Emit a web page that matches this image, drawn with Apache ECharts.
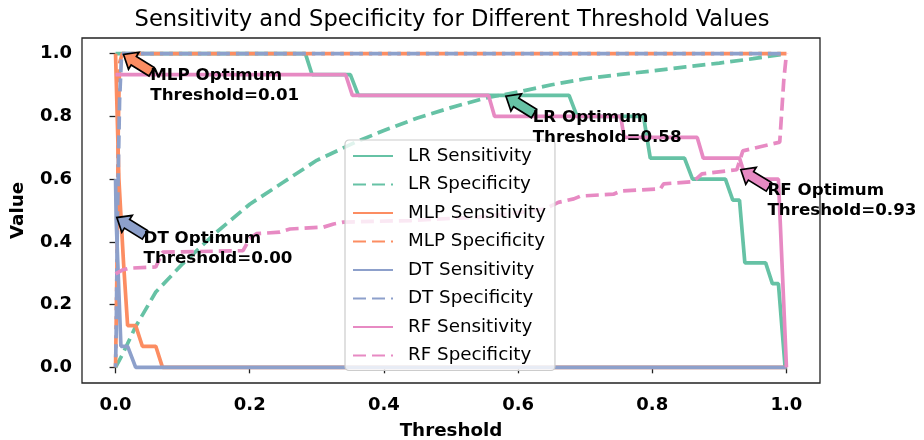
<!DOCTYPE html>
<html>
<head>
<meta charset="utf-8">
<script src="https://cdn.jsdelivr.net/npm/echarts@6/dist/echarts.min.js"></script>
<style>html,body{margin:0;padding:0;background:#fff}#c{width:924px;height:440px}</style>
</head>
<body>
<div id="c"></div>
<script>
// ---- data ----
const xTicks = [0.0, 0.2, 0.4, 0.6, 0.8, 1.0];
const yTicks = [0.0, 0.2, 0.4, 0.6, 0.8, 1.0];

const lrSensX = [0, 0.283, 0.293, 0.35, 0.362, 0.676, 0.688, 0.787, 0.797, 0.848, 0.86, 0.909, 0.92, 0.93, 0.938, 0.969, 0.979, 0.988, 0.998, 1.0];
const lrSensY = [1, 1, 0.933, 0.933, 0.867, 0.867, 0.8, 0.8, 0.667, 0.667, 0.6, 0.6, 0.533, 0.533, 0.333, 0.333, 0.267, 0.267, 0, 0];

const lrSpecX = [0, 0.01, 0.03, 0.06, 0.1, 0.15, 0.2, 0.25, 0.3, 0.36, 0.4, 0.45, 0.5, 0.55, 0.6, 0.65, 0.7, 0.75, 0.8, 0.85, 0.9, 0.95, 1.0];
const lrSpecY = [0, 0.04, 0.13, 0.24, 0.33, 0.43, 0.52, 0.59, 0.66, 0.72, 0.755, 0.795, 0.828, 0.858, 0.878, 0.901, 0.92, 0.933, 0.945, 0.958, 0.97, 0.984, 1.0];

const mlpSensX = [0, 0.005, 0.012, 0.018, 0.03, 0.04, 0.06, 0.07, 1.0];
const mlpSensY = [1, 0.6, 0.33, 0.133, 0.133, 0.067, 0.067, 0, 0];

const mlpSpecX = [0, 0.002, 0.004, 0.006, 0.01, 1.0];
const mlpSpecY = [0, 0.3, 0.75, 0.97, 1, 1];

const dtSensX = [0, 0.001, 0.008, 0.018, 0.03, 1.0];
const dtSensY = [0.6, 0.467, 0.067, 0.067, 0, 0];

const dtSpecX = [0, 0.001, 0.003, 0.006, 0.009, 1.0];
const dtSpecY = [0, 0.12, 0.5, 0.85, 1, 1];

const rfSensX = [0, 0.343, 0.353, 0.556, 0.565, 0.753, 0.758, 0.867, 0.876, 0.93, 0.934, 0.94, 0.988, 1.0];
const rfSensY = [0.933, 0.933, 0.867, 0.867, 0.8, 0.8, 0.733, 0.733, 0.667, 0.667, 0.64, 0.6, 0.6, 0];

const rfSpecX = [0, 0.01, 0.02, 0.06, 0.07, 0.19, 0.2, 0.21, 0.245, 0.26, 0.31, 0.325, 0.34, 0.44, 0.54, 0.59, 0.64, 0.66, 0.683, 0.693, 0.742, 0.753, 0.812, 0.817, 0.861, 0.874, 0.926, 0.935, 0.99, 0.996, 1.0];
const rfSpecY = [0.298, 0.31, 0.316, 0.32, 0.367, 0.372, 0.41, 0.426, 0.431, 0.441, 0.447, 0.457, 0.463, 0.468, 0.479, 0.49, 0.505, 0.526, 0.537, 0.546, 0.552, 0.562, 0.569, 0.585, 0.592, 0.617, 0.63, 0.69, 0.718, 0.915, 1.0];

const annoNames = ['LR', 'MLP', 'DT', 'RF'];
const annoX = [0.58, 0.01, 0.00, 0.93];
const annoY = [0.867, 1.0, 0.48, 0.633];

// ---- styling ----
const colors = {LR: '#66c2a5', MLP: '#fc8d62', DT: '#8da0cb', RF: '#e78ac3'};
const FONT = '"DejaVu Sans", "Liberation Sans", sans-serif';
const LW = 3.7;
const DASH = [13, 6];

function pairs(xs, ys) { return xs.map((x, i) => [x, ys[i]]); }
function mk(name, xs, ys, color, dashed, offset) {
  return {
    name: name, type: 'line', data: pairs(xs, ys), symbol: 'none',
    showSymbol: false, animation: false,
    lineStyle: {color: color, width: LW, type: dashed ? DASH : 'solid', dashOffset: offset || 0, cap: 'butt'},
    itemStyle: {color: color}
  };
}

const series = [
  mk('LR Sensitivity', lrSensX, lrSensY, colors.LR, false),
  mk('LR Specificity', lrSpecX, lrSpecY, colors.LR, true),
  mk('MLP Sensitivity', mlpSensX, mlpSensY, colors.MLP, false),
  mk('MLP Specificity', mlpSpecX, mlpSpecY, colors.MLP, true),
  mk('DT Sensitivity', dtSensX, dtSensY, colors.DT, false),
  mk('DT Specificity', dtSpecX, dtSpecY, colors.DT, true, 9),
  mk('RF Sensitivity', rfSensX, rfSensY, colors.RF, false),
  mk('RF Specificity', rfSpecX, rfSpecY, colors.RF, true)
];

const chart = echarts.init(document.getElementById('c'), null, {renderer: 'canvas'});
const axisLabelStyle = {color: '#000', fontFamily: FONT, fontSize: 18, fontWeight: 'bold'};

chart.setOption({
  animation: false,
  backgroundColor: '#fff',
  title: {
    text: 'Sensitivity and Specificity for Different Threshold Values',
    left: 447, top: 4, textAlign: 'center',
    textStyle: {fontFamily: FONT, fontSize: 22.6, fontWeight: 'normal', color: '#000'}
  },
  grid: {left: 82, right: 104, top: 38, bottom: 57, outerBoundsMode: 'none', containLabel: false,
         show: true, borderColor: '#222', borderWidth: 1.3, backgroundColor: 'transparent'},
  legend: {
    orient: 'vertical', left: 345, top: 140,
    itemWidth: 40, itemHeight: 14, itemGap: 8.5,
    padding: [6, 9, 5, 7],
    backgroundColor: 'rgba(255,255,255,0.8)',
    borderColor: '#cccccc', borderWidth: 1.2, borderRadius: 4,
    itemStyle: {opacity: 0},
    textStyle: {fontFamily: FONT, fontSize: 18.3, color: '#000', padding: [0, 0, 0, 10], lineHeight: 20},
    data: series.map(s => s.name === 'DT Specificity'
      ? {name: s.name, lineStyle: {dashOffset: 0}}
      : s.name)
  },
  xAxis: {
    type: 'value', min: -0.05, max: 1.05,
    name: 'Threshold', nameLocation: 'middle', nameGap: 39,
    nameTextStyle: {fontFamily: FONT, fontSize: 18.3, fontWeight: 'bold', color: '#000'},
    axisLine: {show: false},
    splitLine: {show: false},
    axisTick: {show: true, length: 6, inside: false, customValues: xTicks, lineStyle: {color: '#222', width: 1.3}},
    axisLabel: Object.assign({customValues: xTicks, margin: 13, formatter: v => v.toFixed(1)}, axisLabelStyle)
  },
  yAxis: {
    type: 'value', min: -0.05, max: 1.05,
    name: 'Value', nameLocation: 'middle', nameGap: 55,
    nameTextStyle: {fontFamily: FONT, fontSize: 18.3, fontWeight: 'bold', color: '#000'},
    axisLine: {show: false},
    splitLine: {show: false},
    axisTick: {show: true, length: 6, inside: false, customValues: yTicks, lineStyle: {color: '#222', width: 1.3}},
    axisLabel: Object.assign({customValues: yTicks, margin: 10, formatter: v => v.toFixed(1)}, axisLabelStyle)
  },
  series: series
});

// ---- annotations: arrows + text, positioned through the chart's own coordinate system ----
const graphics = [];
const ang = Math.atan2(16, 26);
const ux = Math.cos(ang), uy = Math.sin(ang);
const nx = -uy, ny = ux;
const L = 33, HL = 12, HW = 20, SW = 10;
annoNames.forEach((nm, i) => {
  const p = chart.convertToPixel({gridIndex: 0}, [annoX[i], annoY[i]]);
  const tx = p[0] + ux * 1.5, ty = p[1] + uy * 1.5;
  const P = (a, b) => [tx + ux * a + nx * b, ty + uy * a + ny * b];
  const pts = [P(0, 0), P(HL, HW / 2), P(HL, SW / 2), P(L, SW / 2), P(L, -SW / 2), P(HL, -SW / 2), P(HL, -HW / 2)];
  graphics.push({
    type: 'polygon', z: 100, silent: true,
    shape: {points: pts},
    style: {fill: colors[nm], stroke: '#000', lineWidth: 1.7, lineJoin: 'miter'}
  });
  graphics.push({
    type: 'text', z: 101, silent: true,
    x: p[0] + 28, y: p[1] + 12,
    style: {
      text: nm + ' Optimum\nThreshold=' + annoX[i].toFixed(2),
      font: 'bold 16.7px ' + FONT, fill: '#000', lineHeight: 20,
      textAlign: 'left', textVerticalAlign: 'top'
    }
  });
});
chart.setOption({graphic: graphics});
</script>
</body>
</html>
